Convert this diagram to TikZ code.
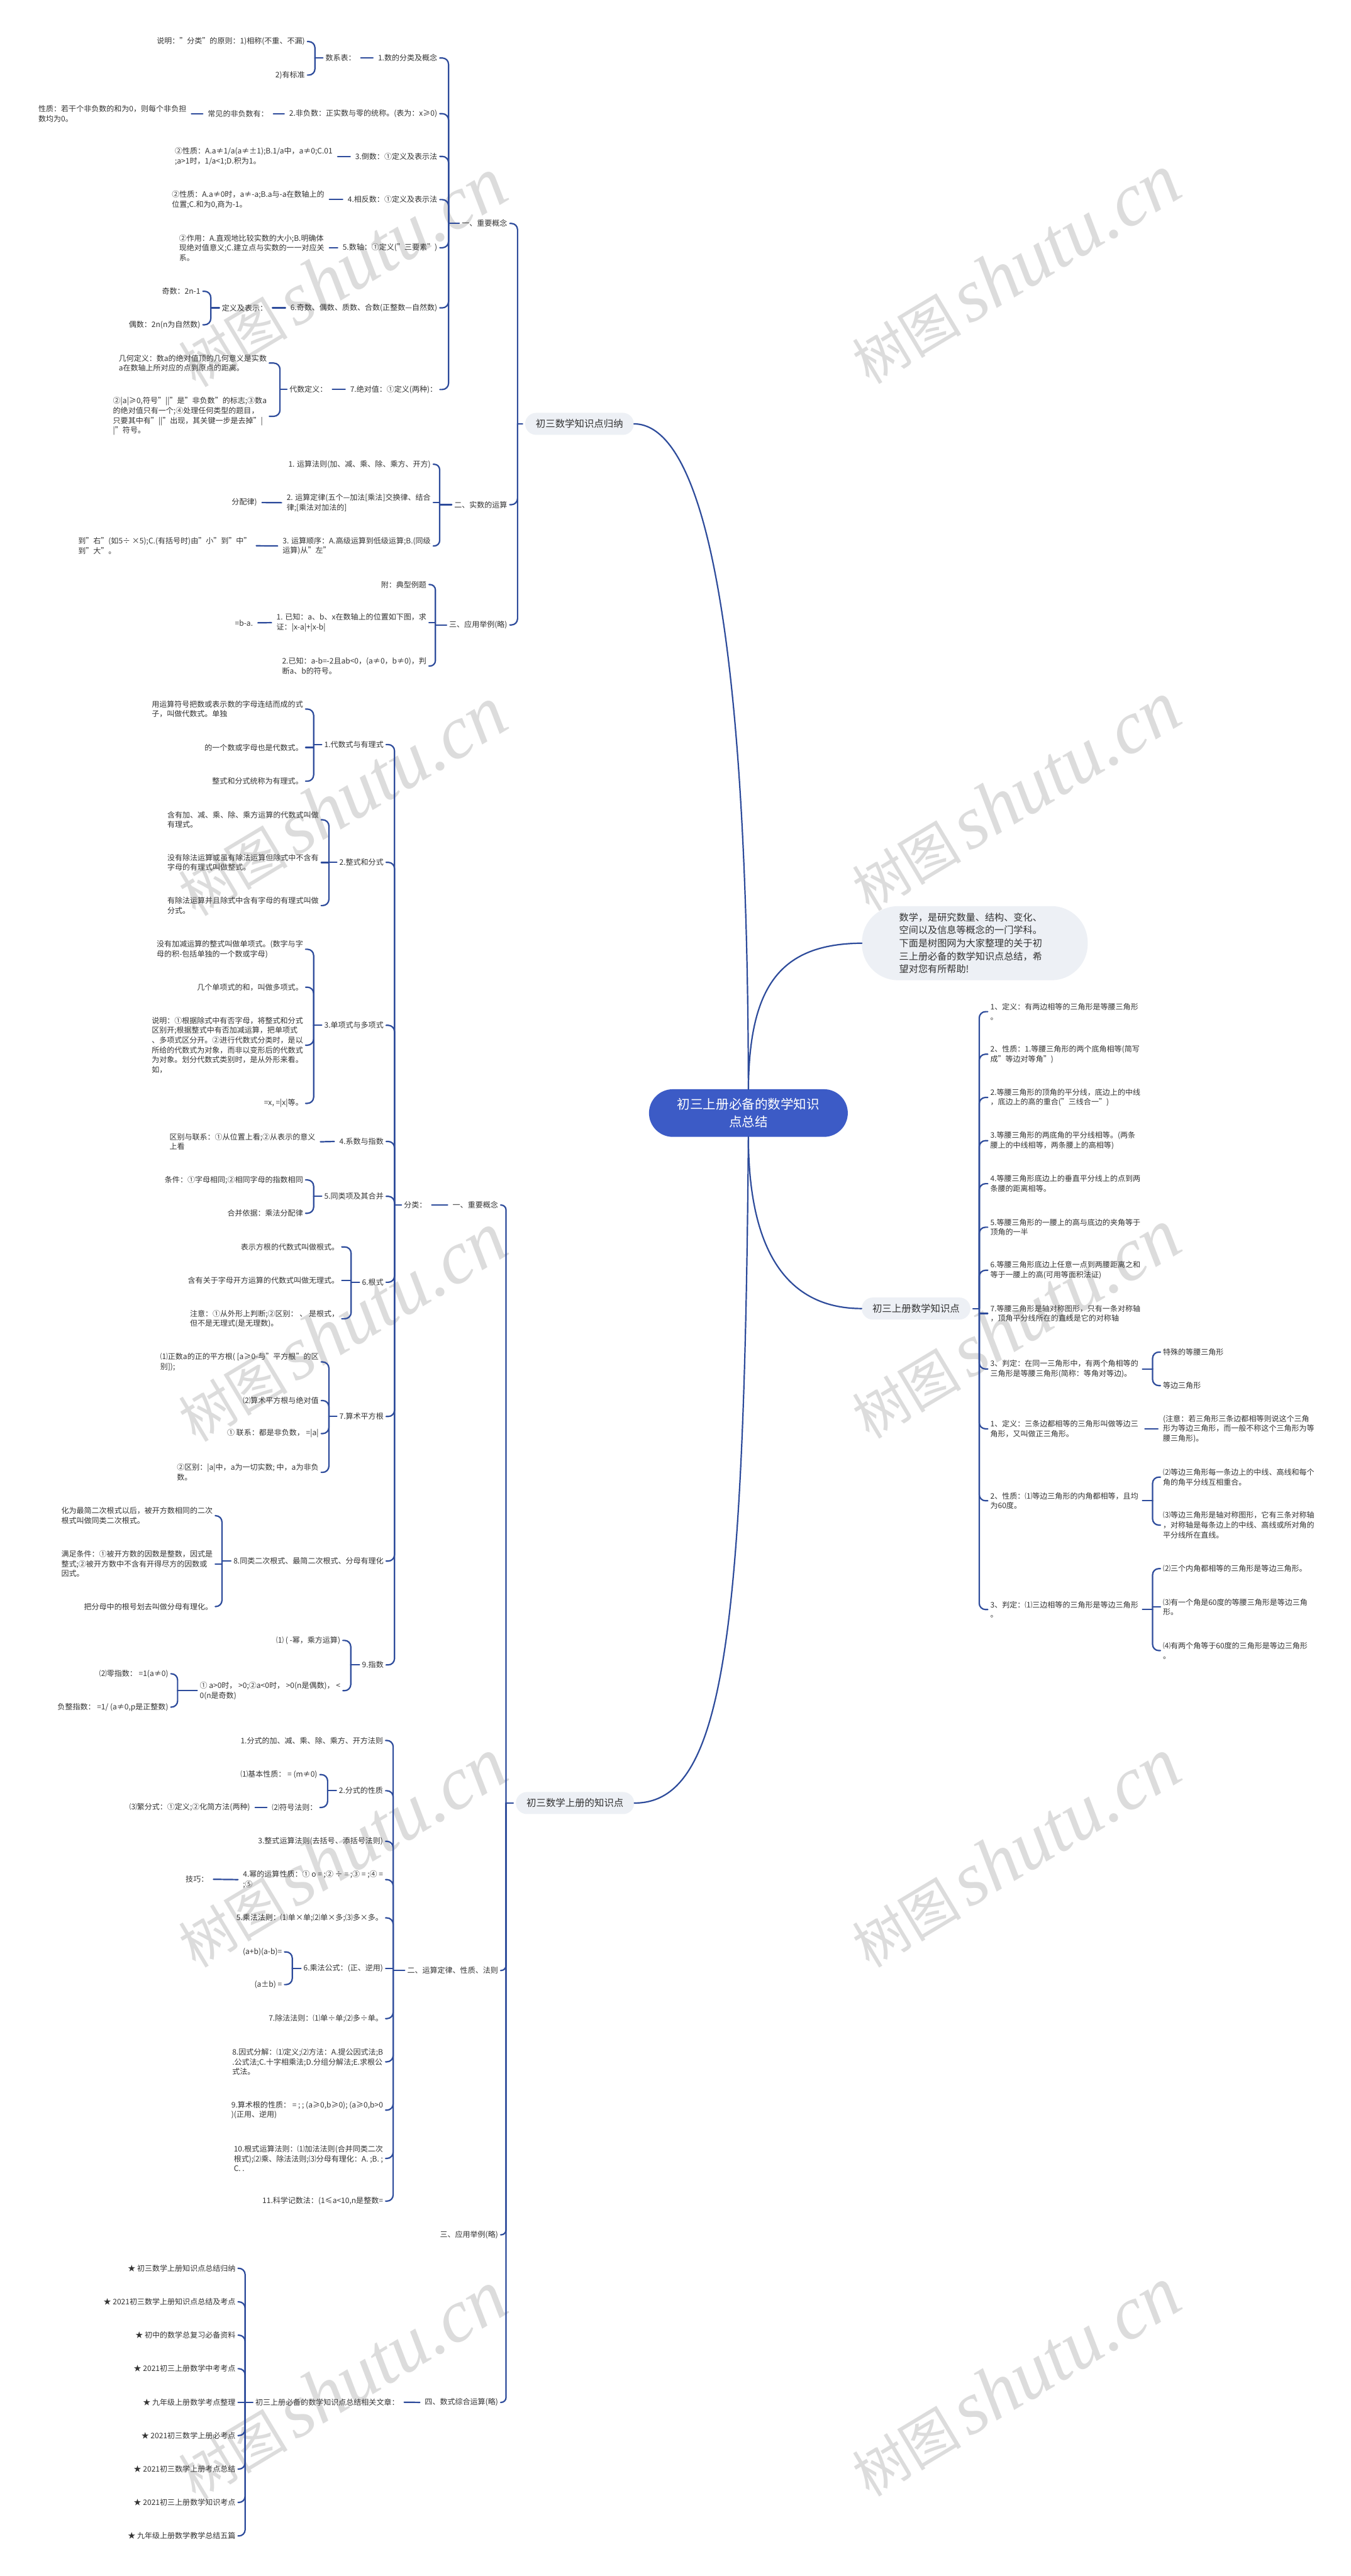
\documentclass[tikz,border=0pt]{standalone}
\usepackage{fontspec}
\setmainfont{Noto Sans CJK SC}
\newfontfamily\wmserif{Liberation Serif}
\definecolor{lcol}{HTML}{2D4B9B}
\definecolor{tcol}{HTML}{333333}
\definecolor{cblue}{HTML}{3C5BC6}
\definecolor{lfill}{HTML}{EDF0F5}
\definecolor{wmcol}{HTML}{DCDCDC}
\newcommand\myfs{\fontsize{13.1pt}{17pt}\selectfont}
\newcommand\myfl{\fontsize{16.8pt}{22pt}\selectfont}
\newcommand\myfb{\fontsize{16.5pt}{22.5pt}\selectfont}
\newcommand\myfc{\fontsize{22.4pt}{30.4pt}\selectfont}
\newcommand\wmtext{{\fontsize{95pt}{95pt}\selectfont 树图}\hspace{0.45cm}{\wmserif\itshape\fontsize{130pt}{130pt}\selectfont shutu.cn}}
\tikzset{
 conn/.style={draw=lcol, line width=2.4pt, line cap=round},
 txt/.style={font=\myfs, text=tcol, inner sep=0pt, align=left},
 L/.style={txt, anchor=east},
 R/.style={txt, anchor=west},
 lvone/.style={fill=lfill, text=tcol, font=\myfl, rounded corners=0.67cm, minimum height=1.34cm, inner xsep=0.65cm, inner ysep=0pt},
 wm/.style={text=wmcol, rotate=31, inner sep=0pt},
}
\newcommand\hkL[4][0.38cm]{%
 \foreach \kid in {#4}{\draw[conn,rounded corners=#1] ([xshift=0.15cm]\kid.east) -| (#3,0 |- #2.west);}%
 \draw[conn] (#3,0 |- #2.west) -- ([xshift=-0.15cm]#2.west);}
\newcommand\hkR[4][0.38cm]{%
 \foreach \kid in {#4}{\draw[conn,rounded corners=#1] ([xshift=-0.15cm]\kid.west) -| (#3,0 |- #2.east);}%
 \draw[conn] (#3,0 |- #2.east) -- ([xshift=0.15cm]#2.east);}
\newcommand\stL[2]{\foreach \kid in {#2}{\draw[conn] ([xshift=0.15cm]\kid.east) -- (#1,0 |- \kid.east);}}
\newcommand\stR[2]{\foreach \kid in {#2}{\draw[conn] ([xshift=-0.15cm]\kid.west) -- (#1,0 |- \kid.west);}}
\newcommand\lnL[2]{\draw[conn] ([xshift=0.3cm]#2.east) -- ([xshift=-0.3cm]#1.west);}
\newcommand\lnR[2]{\draw[conn] ([xshift=0.3cm]#1.east) -- ([xshift=-0.3cm]#2.west);}
\begin{document}
\begin{tikzpicture}[x=0.1cm,y=-0.1cm]
\fill[white] (0,0) rectangle (822,1568);
\useasboundingbox (0,0) rectangle (822,1568);
% watermarks
\foreach \wy/\wz [count=\i] in {166/164,488/485,808/806,1128/1128,1452/1450}{
 \node[wm] (wl\i) at (208,\wy) {\wmtext};
 \node[wm] (wr\i) at (618,\wz) {\wmtext};}
% center
\node[fill=cblue, text=white, font=\myfc, align=center, rounded corners=1.45cm, minimum width=12.1cm, minimum height=2.9cm, inner sep=0pt] (CT) at (455.5,677.5) {初三上册必备的数学知识\\点总结};
\node[fill=lfill, text=tcol, font=\myfb, align=left, text width=9.2cm, rounded corners=2.2cm, minimum width=13.74cm, minimum height=4.51cm, inner sep=0pt] (BB) at (593.3,574.1) {数学，是研究数量、结构、变化、\\空间以及信息等概念的一门学科。\\下面是树图网为大家整理的关于初\\三上册必备的数学知识点总结，希\\望对您有所帮助!};
% ===== branch A =====
\node[lvone] (A0) at (352.7,258) {初三数学知识点归纳};
\node[L] (A1) at (308.8,136) {一、重要概念};
\node[L] (A2) at (308.8,307.2) {二、实数的运算};
\node[L] (A3) at (308.8,380.4) {三、应用举例(略)};
\node[L] (A11) at (266.2,35.3) {1.数的分类及概念};
\node[L] (A12) at (266.2,69.2) {2.非负数：正实数与零的统称。(表为：x≥0)};
\node[L] (A13) at (266.2,95.2) {3.倒数：①定义及表示法};
\node[L] (A14) at (266.2,121.5) {4.相反数：①定义及表示法};
\node[L] (A15) at (266.2,150.8) {5.数轴：①定义("三要素")};
\node[L] (A16) at (266.2,187.4) {6.奇数、偶数、质数、合数(正整数—自然数)};
\node[L] (A17) at (266.2,237.1) {7.绝对值：①定义(两种)：};
\node[L] (A111) at (216.6,35.3) {数系表：};
\node[L] (A1111) at (185.6,25.3) {说明："分类"的原则：1)相称(不重、不漏)};
\node[L] (A1112) at (185.6,45.7) {2)有标准};
\node[L] (A121) at (163.4,69.2) {常见的非负数有：};
\node[L] (A1211) at (113.5,69.2) {性质：若干个非负数的和为0，则每个非负担\\数均为0。};
\node[L] (A131) at (202.5,95.2) {②性质：A.a≠1/a(a≠±1);B.1/a中，a≠0;C.01\\;a>1时，1/a<1;D.积为1。};
\node[L] (A141) at (197.5,121.5) {②性质：A.a≠0时，a≠-a;B.a与-a在数轴上的\\位置;C.和为0,商为-1。};
\node[L] (A151) at (197.5,150.8) {②作用：A.直观地比较实数的大小;B.明确体\\现绝对值意义;C.建立点与实数的一一对应关\\系。};
\node[L] (A161) at (162.8,187.4) {定义及表示：};
\node[L] (A1611) at (122,177.3) {奇数：2n-1};
\node[L] (A1612) at (122,197.7) {偶数：2n(n为自然数)};
\node[L] (A171) at (199.3,237.1) {代数定义：};
\node[L] (A1711) at (162.4,221) {几何定义：数a的绝对值顶的几何意义是实数\\a在数轴上所对应的点到原点的距离。};
\node[L] (A1712) at (162.4,253.4) {②|a|≥0,符号"||"是"非负数"的标志;③数a\\的绝对值只有一个;④处理任何类型的题目，\\只要其中有"||"出现，其关键一步是去掉"|\\|"符号。};
\node[L] (A21) at (262.2,282.6) {1. 运算法则(加、减、乘、除、乘方、开方)};
\node[L] (A22) at (262.2,306) {2. 运算定律(五个—加法[乘法]交换律、结合\\律;[乘法对加法的]};
\node[L] (A23) at (262.2,332.3) {3. 运算顺序：A.高级运算到低级运算;B.(同级\\运算)从"左"};
\node[L] (A221) at (156.5,305.9) {分配律)};
\node[L] (A231) at (153,332.2) {到"右"(如5÷ ×5);C.(有括号时)由"小"到"中"\\到"大"。};
\node[L] (A31) at (259.6,355.8) {附：典型例题};
\node[L] (A32) at (259.6,379) {1. 已知：a、b、x在数轴上的位置如下图，求\\证：|x-a|+|x-b|};
\node[L] (A33) at (259.6,405.4) {2.已知：a-b=-2且ab<0，(a≠0，b≠0)，判\\断a、b的符号。};
\node[L] (A321) at (154,379.1) {=b-a.};
% ===== branch B =====
\node[lvone] (B0) at (350,1097.5) {初三数学上册的知识点};
\node[L] (B1) at (303.2,733.5) {一、重要概念};
\node[L] (B2) at (303.2,1199.4) {二、运算定律、性质、法则};
\node[L] (B3) at (303.2,1360.3) {三、应用举例(略)};
\node[L] (B4) at (303.2,1462.3) {四、数式综合运算(略)};
\node[L] (B11) at (259.8,733.5) {分类：};
\node[L] (B111) at (233.5,453.2) {1.代数式与有理式};
\node[L] (B112) at (233.5,524.9) {2.整式和分式};
\node[L] (B113) at (233.5,624.1) {3.单项式与多项式};
\node[L] (B114) at (233.5,694.8) {4.系数与指数};
\node[L] (B115) at (233.5,728.2) {5.同类项及其合并};
\node[L] (B116) at (233.5,780.5) {6.根式};
\node[L] (B117) at (233.5,862.2) {7.算术平方根};
\node[L] (B118) at (233.5,950.2) {8.同类二次根式、最简二次根式、分母有理化};
\node[L] (B119) at (233.5,1013.4) {9.指数};
\node[L] (B1111) at (184.5,431.6) {用运算符号把数或表示数的字母连结而成的式\\子，叫做代数式。单独};
\node[L] (B1112) at (184.5,455) {的一个数或字母也是代数式。};
\node[L] (B1113) at (184.5,475.5) {整式和分式统称为有理式。};
\node[L] (B1121) at (194,499) {含有加、减、乘、除、乘方运算的代数式叫做\\有理式。};
\node[L] (B1122) at (194,525) {没有除法运算或虽有除法运算但除式中不含有\\字母的有理式叫做整式。};
\node[L] (B1123) at (194,551.2) {有除法运算并且除式中含有字母的有理式叫做\\分式。};
\node[L] (B1131) at (184.5,577.8) {没有加减运算的整式叫做单项式。(数字与字\\母的积-包括单独的一个数或字母)};
\node[L] (B1132) at (184.5,600.9) {几个单项式的和，叫做多项式。};
\node[L] (B1133) at (184.5,636.2) {说明：①根据除式中有否字母，将整式和分式\\区别开;根据整式中有否加减运算，把单项式\\、多项式区分开。②进行代数式分类时，是以\\所给的代数式为对象，而非以变形后的代数式\\为对象。划分代数式类别时，是从外形来看。\\如，};
\node[L] (B1134) at (184.5,671.6) {=x, =|x|等。};
\node[L] (B1141) at (192,695) {区别与联系：①从位置上看;②从表示的意义\\上看};
\node[L] (B1151) at (184.5,718.2) {条件：①字母相同;②相同字母的指数相同};
\node[L] (B1152) at (184.5,738.5) {合并依据：乘法分配律};
\node[L] (B1161) at (206.5,759) {表示方根的代数式叫做根式。};
\node[L] (B1162) at (206.5,779.5) {含有关于字母开方运算的代数式叫做无理式。};
\node[L] (B1163) at (206.5,802.7) {注意：①从外形上判断;②区别： 、 是根式，\\但不是无理式(是无理数)。};
\node[L] (B1171) at (194,829) {⑴正数a的正的平方根( [a≥0-与"平方根"的区\\别]);};
\node[L] (B1172) at (194,852.5) {⑵算术平方根与绝对值};
\node[L] (B1173) at (194,872.6) {① 联系：都是非负数， =|a|};
\node[L] (B1174) at (194,896.2) {②区别：|a|中，a为一切实数; 中，a为非负\\数。};
\node[L] (B1181) at (129.5,922.6) {化为最简二次根式以后，被开方数相同的二次\\根式叫做同类二次根式。};
\node[L] (B1182) at (129.5,951.9) {满足条件：①被开方数的因数是整数，因式是\\整式;②被开方数中不含有开得尽方的因数或\\因式。};
\node[L] (B1183) at (129.5,977.9) {把分母中的根号划去叫做分母有理化。};
\node[L] (B1191) at (207.2,998.5) {⑴ ( -幂，乘方运算)};
\node[L] (B1192) at (207.2,1029.1) {① a>0时， >0;②a<0时， >0(n是偶数)， <\\0(n是奇数)};
\node[L] (B11921) at (102.5,1018.8) {⑵零指数： =1(a≠0)};
\node[L] (B11922) at (102.5,1039.1) {负整指数： =1/ (a≠0,p是正整数)};
\node[L] (B21) at (233.2,1059.4) {1.分式的加、减、乘、除、乘方、开方法则};
\node[L] (B22) at (233.2,1090) {2.分式的性质};
\node[L] (B23) at (233.2,1120.8) {3.整式运算法则(去括号、添括号法则)};
\node[L] (B24) at (233.2,1144.1) {4.幂的运算性质：① o = ;② ÷ = ;③ = ;④ =\\;⑤};
\node[L] (B25) at (233.2,1167.4) {5.乘法法则：⑴单×单;⑵单×多;⑶多×多。};
\node[L] (B26) at (233.2,1198.1) {6.乘法公式：(正、逆用)};
\node[L] (B27) at (233.2,1228.7) {7.除法法则：⑴单÷单;⑵多÷单。};
\node[L] (B28) at (233.2,1255) {8.因式分解：⑴定义;⑵方法：A.提公因式法;B\\.公式法;C.十字相乘法;D.分组分解法;E.求根公\\式法。};
\node[L] (B29) at (233.2,1284.4) {9.算术根的性质： = ; ; (a≥0,b≥0); (a≥0,b>0\\)(正用、逆用)};
\node[L] (B2A) at (233.2,1313.8) {10.根式运算法则：⑴加法法则(合并同类二次\\根式);⑵乘、除法法则;⑶分母有理化：A. ;B. ;\\C. .};
\node[L] (B2B) at (233.2,1339.8) {11.科学记数法：(1≤a<10,n是整数=};
\node[L] (B221) at (193.2,1080.2) {⑴基本性质： = (m≠0)};
\node[L] (B222) at (193.2,1100.2) {⑵符号法则：};
\node[L] (B2221) at (152.3,1100.2) {⑶繁分式：①定义;②化简方法(两种)};
\node[L] (B241) at (126.9,1143.9) {技巧：};
\node[L] (B261) at (171.7,1188.1) {(a+b)(a-b)=};
\node[L] (B262) at (171.7,1208) {(a±b) =};
\node[L] (B41) at (243,1462.2) {初三上册必备的数学知识点总结相关文章：};
\node[L] (B411) at (143.4,1380.7) {★ 初三数学上册知识点总结归纳};
\node[L] (B412) at (143.4,1401.1) {★ 2021初三数学上册知识点总结及考点};
\node[L] (B413) at (143.4,1421.4) {★ 初中的数学总复习必备资料};
\node[L] (B414) at (143.4,1441.8) {★ 2021初三上册数学中考考点};
\node[L] (B415) at (143.4,1462.2) {★ 九年级上册数学考点整理};
\node[L] (B416) at (143.4,1482.5) {★ 2021初三数学上册必考点};
\node[L] (B417) at (143.4,1502.9) {★ 2021初三数学上册考点总结};
\node[L] (B418) at (143.4,1523.2) {★ 2021初三上册数学知识考点};
\node[L] (B419) at (143.4,1543.6) {★ 九年级上册数学教学总结五篇};
% ===== branch C =====
\node[lvone] (C0) at (557.55,796.5) {初三上册数学知识点};
\node[R,text width=9.1cm] (C1) at (602.7,615.8) {1、定义：有两边相等的三角形是等腰三角形\\。};
\node[R,text width=9.1cm] (C2) at (602.7,641.7) {2、性质：1.等腰三角形的两个底角相等(简写\\成"等边对等角")};
\node[R,text width=9.1cm] (C3) at (602.7,668) {2.等腰三角形的顶角的平分线，底边上的中线\\，底边上的高的重合("三线合一")};
\node[R,text width=9.1cm] (C4) at (602.7,694.3) {3.等腰三角形的两底角的平分线相等。(两条\\腰上的中线相等，两条腰上的高相等)};
\node[R,text width=9.1cm] (C5) at (602.7,720.5) {4.等腰三角形底边上的垂直平分线上的点到两\\条腰的距离相等。};
\node[R,text width=9.1cm] (C6) at (602.7,747) {5.等腰三角形的一腰上的高与底边的夹角等于\\顶角的一半};
\node[R,text width=9.1cm] (C7) at (602.7,773.2) {6.等腰三角形底边上任意一点到两腰距离之和\\等于一腰上的高(可用等面积法证)};
\node[R,text width=9.1cm] (C8) at (602.7,799.5) {7.等腰三角形是轴对称图形，只有一条对称轴\\，顶角平分线所在的直线是它的对称轴};
\node[R,text width=9.1cm] (C9) at (602.7,833.3) {3、判定：在同一三角形中，有两个角相等的\\三角形是等腰三角形(简称：等角对等边)。};
\node[R,text width=9.1cm] (CA) at (602.7,869.7) {1、定义：三条边都相等的三角形叫做等边三\\角形，又叫做正三角形。};
\node[R,text width=9.1cm] (CB) at (602.7,913.5) {2、性质：⑴等边三角形的内角都相等，且均\\为60度。};
\node[R,text width=9.1cm] (CC) at (602.7,979.7) {3、判定：⑴三边相等的三角形是等边三角形\\。};
\node[R] (C91) at (707.8,823) {特殊的等腰三角形};
\node[R] (C92) at (707.8,843.4) {等边三角形};
\node[R,text width=9.2cm] (CA1) at (707.8,869.7) {(注意：若三角形三条边都相等则说这个三角\\形为等边三角形，而一般不称这个三角形为等\\腰三角形)。};
\node[R,text width=9.2cm] (CB1) at (707.8,899.1) {⑵等边三角形每一条边上的中线、高线和每个\\角的角平分线互相重合。};
\node[R,text width=9.2cm] (CB2) at (707.8,928.3) {⑶等边三角形是轴对称图形，它有三条对称轴\\，对称轴是每条边上的中线、高线或所对角的\\平分线所在直线。};
\node[R] (CC1) at (707.8,954.8) {⑵三个内角都相等的三角形是等边三角形。};
\node[R,text width=9.2cm] (CC2) at (707.8,978.2) {⑶有一个角是60度的等腰三角形是等边三角\\形。};
\node[R,text width=9.2cm] (CC3) at (707.8,1004.7) {⑷有两个角等于60度的三角形是等边三角形\\。};
% ===== connectors =====
\draw[conn] (CT.north) .. controls (455,340) and (420,258) .. (A0.east);
\draw[conn] (CT.north) .. controls (456,600) and (475,574.5) .. (BB.west);
\draw[conn] (CT.south) .. controls (455.6,770) and (485,796.5) .. (C0.west);
\draw[conn] (CT.south) .. controls (453,1000) and (440,1097.5) .. (B0.east);
% A
\hkL{A0}{315}{A1,A2,A3}
\hkL{A1}{273}{A11,A12,A13,A14,A15,A16,A17}
\lnL{A11}{A111}
\hkL{A111}{191.7}{A1111,A1112}
\lnL{A12}{A121}
\lnL{A121}{A1211}
\lnL{A13}{A131}
\lnL{A14}{A141}
\lnL{A15}{A151}
\lnL{A16}{A161}
\hkL{A161}{128.3}{A1611,A1612}
\lnL{A17}{A171}
\hkL{A171}{170.4}{A1711,A1712}
\hkL[0.33cm]{A2}{267.6}{A21,A23}
\stL{267.6}{A22}
\lnL{A22}{A221}
\lnL{A23}{A231}
\hkL[0.33cm]{A3}{265}{A31,A33}
\stL{265}{A32}
\lnL{A32}{A321}
% B
\hkL[0.3cm]{B0}{308}{B1,B2,B3,B4}
\lnL{B1}{B11}
\hkL{B11}{240.1}{B111,B112,B113,B114,B115,B116,B117,B118,B119}
\hkL{B111}{190.9}{B1111,B1113}
\stL{190.9}{B1112}
\hkL{B112}{200.2}{B1121,B1123}
\stL{200.2}{B1122}
\hkL{B113}{190.9}{B1131,B1132,B1133,B1134}
\lnL{B114}{B1141}
\hkL{B115}{190.9}{B1151,B1152}
\hkL{B116}{213.7}{B1161,B1163}
\stL{213.7}{B1162}
\hkL{B117}{200.2}{B1171,B1172,B1173,B1174}
\hkL{B118}{135.1}{B1181,B1183}
\stL{135.1}{B1182}
\hkL{B119}{213.5}{B1191,B1192}
\hkL{B1192}{108.1}{B11921,B11922}
\hkL{B2}{239.3}{B21,B22,B23,B24,B25,B27,B28,B29,B2A,B2B}
\stL{239.3}{B26}
\hkL{B22}{199.4}{B221,B222}
\lnL{B222}{B2221}
\lnL{B24}{B241}
\hkL{B26}{177.9}{B261,B262}
\lnL{B4}{B41}
\hkL{B41}{149.2}{B411,B412,B413,B414,B416,B417,B418,B419}
\stL{149.2}{B415}
% C
\hkR{C0}{596}{C1,C2,C3,C4,C5,C6,C7,C9,CA,CB,CC}
\stR{596}{C8}
\hkR{C9}{701.5}{C91,C92}
\lnR{CA}{CA1}
\hkR{CB}{701.5}{CB1,CB2}
\hkR{CC}{701.5}{CC1,CC3}
\stR{701.5}{CC2}
\end{tikzpicture}
\end{document}
